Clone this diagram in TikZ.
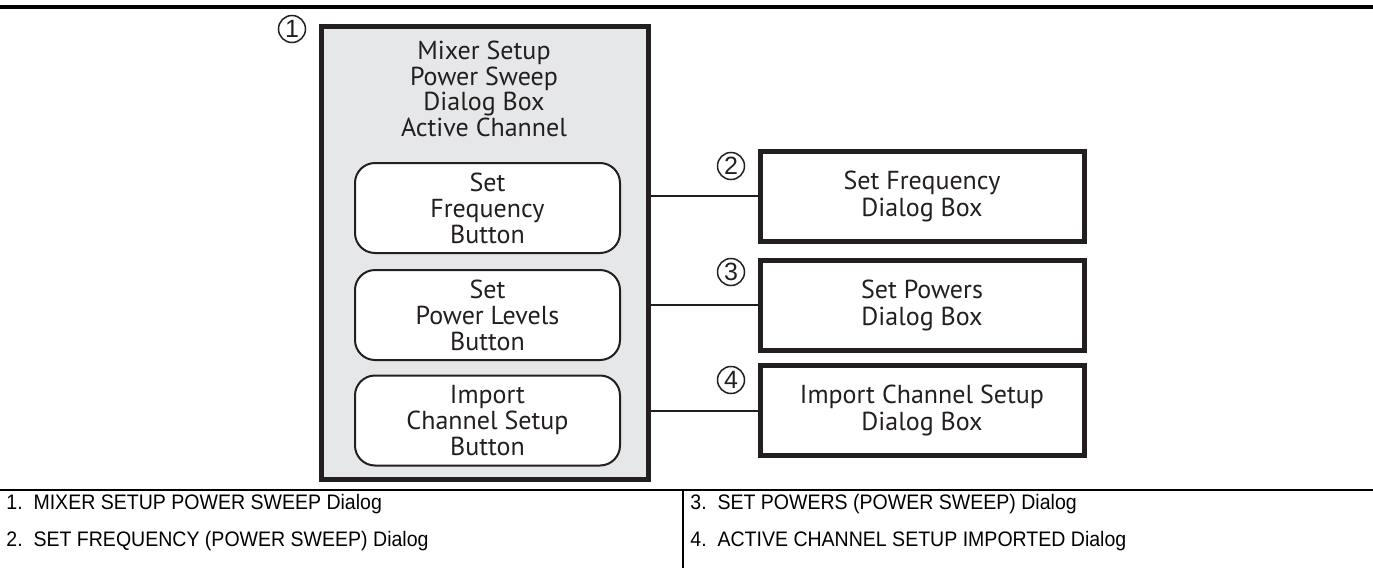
\documentclass[tikz,border=0pt]{standalone}
\usepackage{fontspec}
\usepackage{xcolor}
\usetikzlibrary{positioning, calc}
\newfontfamily\boxfont{PT Sans}
\newfontfamily\tablefont[FakeStretch=0.93]{Liberation Sans}
\newfontfamily\digitfont{Liberation Sans}
\definecolor{ink}{HTML}{231F20}
\definecolor{panel}{HTML}{E6E7E8}
\tikzset{
  mainbox/.style = {draw=ink, line width=2.5pt, fill=panel, rectangle,
                    minimum width=163.5pt, minimum height=226.5pt, inner sep=0pt},
  title/.style   = {align=center, text=ink, inner sep=0pt,
                    font=\boxfont\fontsize{13}{11.7}\selectfont},
  btn/.style     = {draw=ink, line width=1pt, fill=white, rounded corners=10pt,
                    minimum width=132.5pt, minimum height=45pt, inner sep=0pt,
                    align=center, text=ink, font=\boxfont\fontsize{13}{13}\selectfont},
  dlg/.style     = {draw=ink, line width=2.5pt, fill=white, rectangle,
                    minimum width=162pt, minimum height=45pt, inner sep=0pt,
                    align=center, text=ink, font=\boxfont\fontsize{13}{13.5}\selectfont},
  callout/.style = {circle, draw=ink, line width=0.75pt, inner sep=0pt, minimum size=13.5pt,
                    text=ink, font=\digitfont\fontsize{12.5}{12.5}\selectfont},
  wire/.style    = {draw=ink, line width=1pt},
  legend/.style  = {anchor=base west, inner sep=0pt, text=black,
                    font=\tablefont\fontsize{10.5}{12}\selectfont},
}

\begin{document}
\begin{tikzpicture}[x=0.5pt, y=-0.5pt]
  \useasboundingbox (0,0) rectangle (1373,568);
  \draw[line width=2pt, draw=black] (0,7) -- (1373,7);

  % mixer setup dialog with its buttons
  \node[mainbox] (main) at (484.5,252.5) {};
  \node[title] (head) at (484,89) {Mixer Setup\\Power Sweep\\Dialog Box\\Active Channel};
  \node[btn] (bfreq) at (487.5,208) {Set\\Frequency\\Button};
  \node[btn] (bpow)  at (487.5,315) {Set\\Power Levels\\Button};
  \node[btn] (bimp)  at (487.5,420.5) {Import\\Channel Setup\\Button};
  \node[callout] (c1) at (292,29) {1};

  % dialogs opened by the buttons
  \node[dlg] (dfreq) at (922,196) {Set Frequency\\Dialog Box};
  \node[dlg] (dpow)  at (922,305) {Set Powers\\Dialog Box};
  \node[dlg] (dimp)  at (922,410.5) {Import Channel Setup\\Dialog Box};
  \node[callout] (c2) at (731,166) {2};
  \node[callout] (c3) at (731,272) {3};
  \node[callout] (c4) at (731,380) {4};

  \draw[wire] (main.east |- dfreq.west) -- (dfreq.west);
  \draw[wire] (main.east |- dpow.west) -- (dpow.west);
  \draw[wire] (main.east |- dimp.west) -- (dimp.west);

  % legend
  \draw[line width=1pt, draw=black] (0,490) -- (1373,490);
  \draw[line width=0.6pt, draw=black] (683,490) -- (683,568);
  \node[legend] (l1) at (6,509) {1.\ \ MIXER SETUP POWER SWEEP Dialog};
  \node[legend] (l2) at (6,546) {2.\ \ SET FREQUENCY (POWER SWEEP) Dialog};
  \node[legend] (l3) at (690,509) {3.\ \ SET POWERS (POWER SWEEP) Dialog};
  \node[legend] (l4) at (690,546) {4.\ \ ACTIVE CHANNEL SETUP IMPORTED Dialog};
\end{tikzpicture}
\end{document}
